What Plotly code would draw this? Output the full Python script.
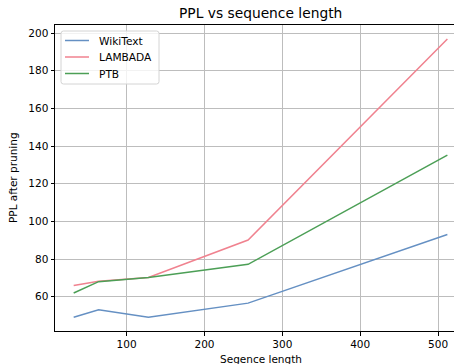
import plotly.graph_objects as go

seq_len = [32, 64, 128, 256, 512]
wikitext = [49.1, 53.1, 49.1, 56.6, 93.0]
lambada = [66.0, 68.2, 70.2, 90.1, 196.8]
ptb = [62.0, 68.0, 70.2, 77.2, 135.2]

names = ["WikiText", "LAMBADA", "PTB"]
values = [wikitext, lambada, ptb]
colors = ["#6590c3", "#f0828f", "#4c9f56"]

W, H = 454, 364
L, R, T, B = 55, 0, 25, 33
PW, PH = W - L - R, H - T - B


def px(x):
    return (x - L) / PW


def py(y):
    return (H - B - y) / PH


fig = go.Figure()
for name, ys, col in zip(names, values, colors):
    fig.add_trace(go.Scatter(x=seq_len, y=ys, mode="lines", name=name,
                             line=dict(color=col, width=1.5), showlegend=False))

font = "DejaVu Sans, sans-serif"

# manual matplotlib-like legend
bx0, by0, bx1, by1, r = 61, 31, 159, 84, 2.5
path = (f"M {px(bx0 + r)},{py(by0)} L {px(bx1 - r)},{py(by0)} "
        f"Q {px(bx1)},{py(by0)} {px(bx1)},{py(by0 + r)} "
        f"L {px(bx1)},{py(by1 - r)} Q {px(bx1)},{py(by1)} {px(bx1 - r)},{py(by1)} "
        f"L {px(bx0 + r)},{py(by1)} Q {px(bx0)},{py(by1)} {px(bx0)},{py(by1 - r)} "
        f"L {px(bx0)},{py(by0 + r)} Q {px(bx0)},{py(by0)} {px(bx0 + r)},{py(by0)} Z")
shapes = [dict(type="path", path=path, xref="paper", yref="paper",
               fillcolor="rgba(255,255,255,0.8)", line=dict(color="#d4d4d4", width=1),
               layer="above")]
annotations = []
row_y = [40.5, 57.0, 73.5]
for name, col, ry in zip(names, colors, row_y):
    shapes.append(dict(type="line", xref="paper", yref="paper",
                       x0=px(65), x1=px(89), y0=py(ry), y1=py(ry),
                       line=dict(color=col, width=1.5), layer="above"))
    annotations.append(dict(text=name, xref="paper", yref="paper",
                            x=px(97), y=py(ry), xanchor="left", yanchor="middle",
                            showarrow=False, font=dict(size=10.6)))

annotations += [
    dict(text="PPL vs sequence length", xref="paper", yref="paper",
         x=px(260.5), y=1, yshift=2, xanchor="center", yanchor="bottom",
         showarrow=False, font=dict(size=13.8)),
    dict(text="Segence length", xref="paper", yref="paper",
         x=px(260.5), y=0, yshift=-20, xanchor="center", yanchor="top",
         showarrow=False, font=dict(size=10.5)),
    dict(text="PPL after pruning", xref="paper", yref="paper",
         x=0, xshift=-42, y=0.5, xanchor="center", yanchor="middle", textangle=-90,
         showarrow=False, font=dict(size=10.5)),
]

fig.update_layout(
    width=W, height=H,
    margin=dict(l=L, r=R, t=T, b=B),
    paper_bgcolor="white", plot_bgcolor="white",
    font=dict(family=font, size=10.5, color="black"),
    showlegend=False,
    shapes=shapes,
    annotations=annotations,
)
fig.update_xaxes(range=[8, 520.5], tickvals=[100, 200, 300, 400, 500],
                 showgrid=True, gridcolor="#bdbdbd", gridwidth=1,
                 showline=True, linecolor="black", linewidth=1, mirror=True,
                 ticks="outside", ticklen=3.5, tickcolor="black", zeroline=False,
                 tickfont=dict(size=10.5))
fig.update_yaxes(range=[41.8, 204.25], tickvals=[60, 80, 100, 120, 140, 160, 180, 200],
                 showgrid=True, gridcolor="#bdbdbd", gridwidth=1,
                 showline=True, linecolor="black", linewidth=1,
                 ticks="outside", ticklen=3.5, tickcolor="black", zeroline=False,
                 tickfont=dict(size=10.5))

fig.write_html("out.html")
